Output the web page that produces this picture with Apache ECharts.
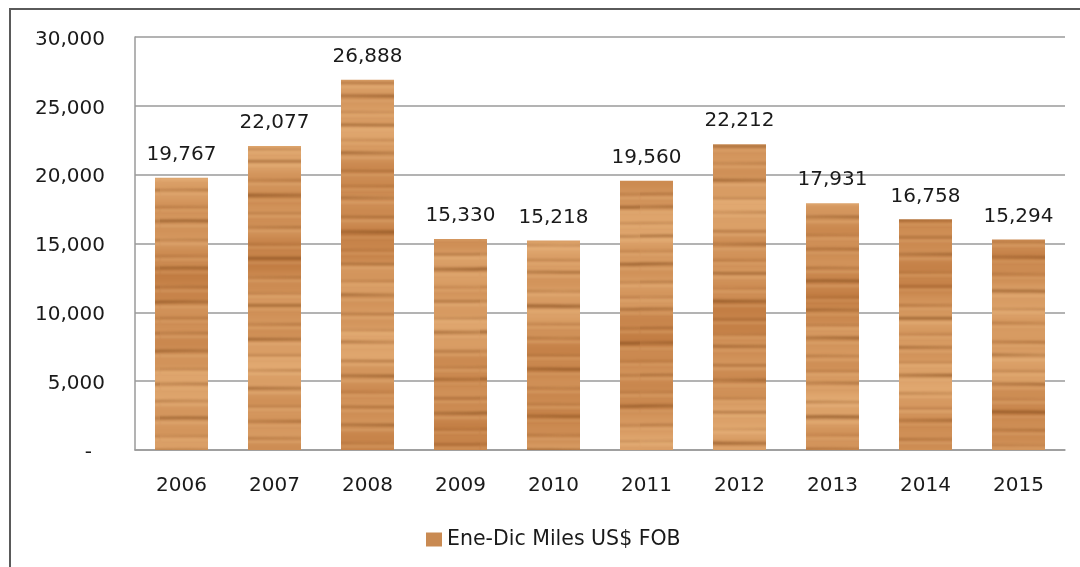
<!DOCTYPE html>
<html>
<head>
<meta charset="utf-8">
<script src="https://cdn.jsdelivr.net/npm/echarts@6/dist/echarts.min.js"></script>
<style>
  html, body { margin: 0; padding: 0; background: #fff; }
  #chart { width: 1080px; height: 567px; }
</style>
</head>
<body>
<div id="chart"></div>
<script>
// Annual exports, January–December, thousands of US$ FOB
const years = ['2006', '2007', '2008', '2009', '2010', '2011', '2012', '2013', '2014', '2015'];
const exportValues = [19767, 22077, 26888, 15330, 15218, 19560, 22212, 17931, 16758, 15294];
const yTicks = [0, 5000, 10000, 15000, 20000, 25000, 30000];
const seriesName = 'Ene-Dic Miles US$ FOB';

// Wood-grain fill: warm tan base with soft darker grain lines.
// `variant` shifts the grain so neighbouring bars don't look identical.
function woodTexture(variant) {
  const c = document.createElement('canvas');
  c.width = 160; c.height = 460;
  const g = c.getContext('2d');
  const p = variant * 0.9;
  for (let y = 0; y < c.height; y++) {
    const t = y / c.height;
    const tone = 0.5 + 0.26 * Math.sin(t * Math.PI * 4 + p) + 0.14 * Math.sin(t * Math.PI * 13 + 2.1 + p * 1.7)
      + 0.07 * Math.sin(t * Math.PI * 41 + p * 3);
    const r = Math.round(226 - 34 * tone);
    const gg = Math.round(170 - 48 * tone);
    const b = Math.round(114 - 50 * tone);
    g.fillStyle = `rgb(${r},${gg},${b})`;
    g.fillRect(0, y, c.width, 1);
  }
  // grain lines: [y, thickness, opacity]
  const grain = [
    [9, 2, 0.45], [22, 3, 0.6], [38, 1.5, 0.35], [51, 2.5, 0.55], [66, 1.5, 0.3],
    [79, 3, 0.65], [97, 2, 0.4], [112, 1.5, 0.35], [124, 2.5, 0.5], [143, 2, 0.45],
    [158, 3.5, 0.6], [176, 1.5, 0.3], [190, 2, 0.5], [207, 1.5, 0.35], [221, 3, 0.6],
    [240, 2, 0.4], [256, 1.5, 0.3], [268, 2.5, 0.55], [287, 2, 0.45], [302, 3, 0.6],
    [318, 1.5, 0.35], [333, 2, 0.45], [351, 3, 0.55], [369, 1.5, 0.3], [384, 2.5, 0.5],
    [401, 2, 0.4], [418, 3, 0.55], [436, 1.5, 0.35], [450, 2, 0.45]
  ];
  const shift = (variant * 37) % c.height;
  g.filter = 'blur(1px)';
  grain.forEach(([y0, w, a], i) => {
    const y = (y0 + shift) % c.height;
    // a grain line fades in and out across the width
    const grad = g.createLinearGradient(0, 0, c.width, 0);
    const k = (i + variant) % 3;
    grad.addColorStop(0, `rgba(135,78,30,${a * (k === 0 ? 0.6 : 1)})`);
    grad.addColorStop(0.5, `rgba(135,78,30,${a * (k === 1 ? 0.5 : 1)})`);
    grad.addColorStop(1, `rgba(135,78,30,${a * (k === 2 ? 0.6 : 1)})`);
    g.strokeStyle = grad;
    g.lineWidth = w;
    g.beginPath();
    g.moveTo(-4, y);
    g.bezierCurveTo(c.width * 0.3, y - 1, c.width * 0.6, y + 1.2, c.width + 4, y);
    g.stroke();
    g.strokeStyle = 'rgba(245,205,155,0.3)';
    g.lineWidth = 1.5;
    g.beginPath();
    g.moveTo(0, y + w + 2); g.lineTo(c.width, y + w + 2);
    g.stroke();
  });
  g.filter = 'none';
  return c;
}

const barData = exportValues.map((v, i) => ({
  value: v,
  itemStyle: { color: { image: woodTexture(i), repeat: 'repeat' } }
}));

const chart = echarts.init(document.getElementById('chart'), null, { renderer: 'canvas' });
const font = '"DejaVu Sans", "Noto Sans", sans-serif';
const textColor = '#1a1a1a';
const fs = 20;

chart.setOption({
  animation: false,
  backgroundColor: '#ffffff',
  graphic: [{
    type: 'rect',
    shape: { x: 10, y: 9, width: 1100, height: 620 },
    style: { fill: 'none', stroke: '#5a5a5a', lineWidth: 2 },
    silent: true,
    z: -1
  }],
  grid: { left: 135, right: 15, top: 37, bottom: 117 },
  legend: {
    data: [seriesName],
    top: 529,
    left: 426,
    padding: 0,
    itemWidth: 16,
    itemHeight: 14,
    itemGap: 6,
    icon: 'rect',
    itemStyle: { color: '#c98a52' },
    textStyle: { fontFamily: font, fontSize: 20.5, color: textColor, padding: [0, 0, 0, 0] }
  },
  xAxis: {
    type: 'category',
    data: years,
    axisLine: { lineStyle: { color: '#9a9a9a', width: 1.5 } },
    axisTick: { show: false },
    axisLabel: { fontFamily: font, fontSize: fs, color: textColor, margin: 26 }
  },
  yAxis: {
    type: 'value',
    min: yTicks[0],
    max: yTicks[yTicks.length - 1],
    interval: yTicks[1] - yTicks[0],
    axisLine: { show: true, lineStyle: { color: '#9a9a9a', width: 1.5 } },
    axisTick: { show: false },
    splitLine: { lineStyle: { color: '#9a9a9a', width: 1.5 } },
    axisLabel: {
      fontFamily: font, fontSize: fs, color: textColor, margin: 30,
      padding: [5, 0, 0, 0],
      formatter: v => v === 0 ? '{d|-}' : v.toLocaleString('en-US'),
      rich: { d: { fontFamily: font, fontSize: fs, color: textColor, padding: [0, 13, 0, 0] } }
    }
  },
  series: [{
    name: seriesName,
    type: 'bar',
    data: barData,
    barWidth: 53,
    label: {
      show: true,
      position: 'top',
      distance: 13,
      fontFamily: font,
      fontSize: fs,
      color: textColor,
      formatter: p => p.value.toLocaleString('en-US')
    }
  }]
});
</script>
</body>
</html>
